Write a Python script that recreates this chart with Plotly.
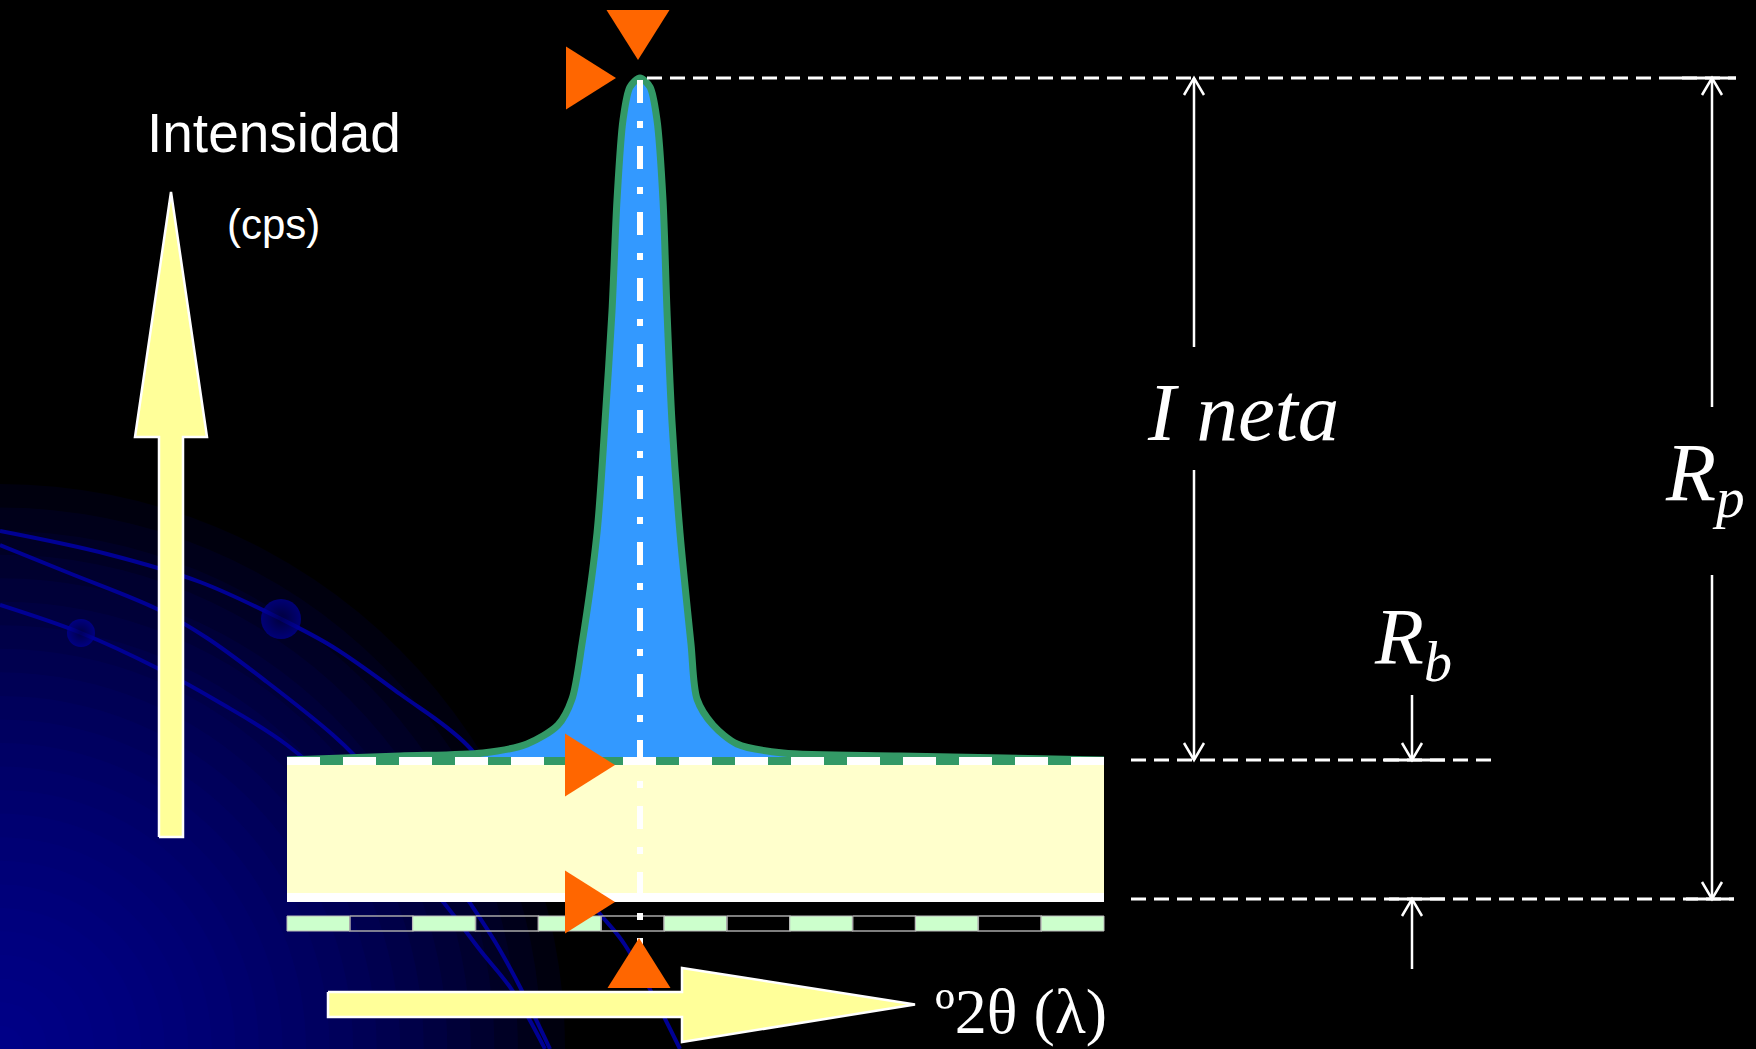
import plotly.graph_objects as go

# ---- data (x = 2θ position, y = counts above the zero line) ----
peak_2theta = [287, 400, 483, 527, 558, 572, 582, 597, 605, 612, 617, 623, 630, 640,
               650, 657, 663, 667, 672, 680, 691, 697, 713, 737, 783, 900, 1104]
peak_counts = [139, 143, 146, 155, 174, 200, 255, 366, 477, 588, 699, 779, 812, 821,
               812, 779, 699, 588, 477, 366, 255, 200, 174, 155, 146, 143, 139]

peak_pos = 640          # 2θ of the peak maximum
peak_max = 821          # Rp
background = 139        # Rb
zero = 0
scan_start, scan_end = 287, 1104
n_steps = 13            # counting steps drawn under the scan

# measurement markers at the right
ineta_x = 1194
rb_x = 1412
rp_x = 1712

# decorative orbit lines of the slide background
orbit_1_x = [0, 107, 200, 281, 333, 400, 467, 530, 600, 625, 680]
orbit_1_y = [368, 345, 317, 280, 252, 205, 154, 69, -15, -46, -150]
orbit_2_x = [0, 69, 157, 207, 267, 333, 356, 420, 470, 497, 520, 550]
orbit_2_y = [354, 326, 290, 261, 217, 164, 142, 69, -4, -46, -88, -150]
orbit_3_x = [0, 81, 157, 217, 287, 380, 444, 480, 512, 545]
orbit_3_y = [294, 266, 231, 198, 154, 69, -4, -51, -91, -150]
ball_x = [281, 81]
ball_y = [280, 266]
ball_size = [40, 28]

WHITE = "white"
ORANGE = "#FF6600"
GREEN = "#339966"
SERIF = "Liberation Serif, Times New Roman, serif"
SANS = "Liberation Sans, Arial, sans-serif"

fig = go.Figure()


def poly(xs, ys, fill, line_color=None, line_width=0):
    fig.add_trace(go.Scatter(
        x=xs, y=ys, mode="lines", fill="toself", fillcolor=fill,
        line=dict(color=line_color or fill, width=line_width),
        hoverinfo="skip"))


def line(xs, ys, color=WHITE, width=3, dash="solid", shape="linear"):
    fig.add_trace(go.Scatter(
        x=xs, y=ys, mode="lines", line=dict(color=color, width=width, dash=dash, shape=shape),
        hoverinfo="skip"))


def arrow(x, y_from, y_tip):
    # thin white arrow with an open head
    d = 17 if y_tip > y_from else -17
    line([x, x], [y_from, y_tip], width=2.5)
    line([x - 10, x, x + 10], [y_tip - d, y_tip, y_tip - d], width=2.5)


def triangle(direction, tx, ty, length=50, half=31.5):
    if direction == "right":
        xs, ys = [tx - length, tx, tx - length], [ty + half, ty, ty - half]
    elif direction == "down":
        xs, ys = [tx - half, tx, tx + half], [ty + length, ty, ty + length]
    else:
        xs, ys = [tx - half, tx, tx + half], [ty - length, ty, ty - length]
    poly(xs, ys, ORANGE)


# background glow in the lower left corner
for k in range(24, 0, -1):
    r = 565 * k / 24
    fig.add_shape(type="circle", x0=-r, x1=r, y0=-150 - r, y1=-150 + r,
                  fillcolor="rgba(0,0,150,0.09)", line_width=0, layer="below")

for ox, oy in [(orbit_1_x, orbit_1_y), (orbit_2_x, orbit_2_y), (orbit_3_x, orbit_3_y)]:
    line(ox, oy, color="#000094", width=4, shape="spline")
fig.add_trace(go.Scatter(
    x=ball_x, y=ball_y, mode="markers", hoverinfo="skip",
    marker=dict(size=ball_size, color="#00009c", line_width=0,
                gradient=dict(type="radial", color="#000048"))))

# background band (Rb) and zero line
poly([scan_start, scan_end, scan_end, scan_start], [2, 2, background, background], "#FFFFCC")
line([scan_start, scan_end], [1.5, 1.5], width=9)

# counting steps strip
step_w = (scan_end - scan_start) / n_steps
for i in range(n_steps):
    x0 = scan_start + i * step_w
    xs = [x0, x0 + step_w, x0 + step_w, x0, x0]
    ys = [-17, -17, -32, -32, -17]
    if i % 2 == 0:
        poly(xs, ys, "#CCFFCC", "#bbbbbb", 1)
    else:
        line(xs, ys, color="#a8a8a8", width=1.5)

# axis arrows
poly([159, 183, 183, 207, 171, 135, 159, 159], [62, 62, 462, 462, 707, 462, 462, 62],
     "#FFFF99", WHITE, 2.5)
poly([328, 682, 682, 915, 682, 682, 328, 328], [-93, -93, -69, -105.5, -143, -118, -118, -93],
     "#FFFF99", WHITE, 2.5)

# peak
fig.add_trace(go.Scatter(x=[scan_start, scan_end], y=[background, background], mode="lines",
                         line=dict(width=0, color="rgba(0,0,0,0)"), hoverinfo="skip"))
fig.add_trace(go.Scatter(x=peak_2theta, y=peak_counts, mode="lines", fill="tonexty",
                         fillcolor="#3399FF", line=dict(color=GREEN, width=7, shape="spline",
                                                        smoothing=0.8),
                         hoverinfo="skip"))

# top edge of background band: white with green dashes
line([scan_start, scan_end], [background - 1, background - 1], width=8)
line([scan_start + 33, scan_end], [background - 1, background - 1], color=GREEN, width=8,
     dash="23px,33px")

# peak position (dash-dot)
line([peak_pos, peak_pos], [peak_max - 2, -46], width=6, dash="23px,18px,7px,18px")

# reference levels on the right
line([peak_pos + 7, rp_x + 24], [peak_max, peak_max], width=3, dash="15px,8px")
line([rp_x - 38, rp_x + 24], [peak_max, peak_max], width=3)
line([1131, 1492], [background, background], width=3, dash="15px,8px")
line([rb_x - 29, rb_x + 33], [background, background], width=3)
line([1131, rp_x + 22], [zero, zero], width=3, dash="15px,8px")
line([rb_x - 23, rb_x + 33], [zero, zero], width=3)
line([rp_x - 26, rp_x + 22], [zero, zero], width=3)

arrow(ineta_x, 552, peak_max)
arrow(ineta_x, 429, background)
arrow(rp_x, 492, peak_max)
arrow(rp_x, 324, zero)
arrow(rb_x, 204, background)
arrow(rb_x, -70, zero)

# orange position markers
triangle("down", 638, peak_max + 18)
triangle("right", 616, peak_max)
triangle("right", 615, background - 5)
triangle("right", 615, zero - 3)
triangle("up", 639, -39)

annotations = [
    dict(x=274, y=766, text="Intensidad", font=dict(family=SANS, size=55, color=WHITE)),
    dict(x=273, y=675, text="(cps)", font=dict(family=SANS, size=42, color=WHITE)),
    dict(x=1243, y=487, text="I neta",
         font=dict(family=SERIF, size=83, color=WHITE, style="italic")),
    dict(x=1705, y=421, text="R<sub>p</sub>",
         font=dict(family=SERIF, size=82, color=WHITE, style="italic")),
    dict(x=1413, y=256, text="R<sub>b</sub>",
         font=dict(family=SERIF, size=80, color=WHITE, style="italic")),
    dict(x=933, y=-112, text="º2θ (λ)", xanchor="left",
         font=dict(family=SERIF, size=64, color=WHITE)),
]
for a in annotations:
    a.setdefault("xanchor", "center")
    fig.add_annotation(xref="x", yref="y", yanchor="middle", showarrow=False, **a)

fig.update_layout(
    width=1756, height=1049, margin=dict(l=0, r=0, t=0, b=0),
    paper_bgcolor="black", plot_bgcolor="black", showlegend=False, hovermode=False,
    xaxis=dict(range=[0, 1756], visible=False, fixedrange=True),
    yaxis=dict(range=[-150, 899], visible=False, fixedrange=True),
)

fig.write_html("out.html", config={"displayModeBar": False},
               post_script="document.body.style.margin='0';")
